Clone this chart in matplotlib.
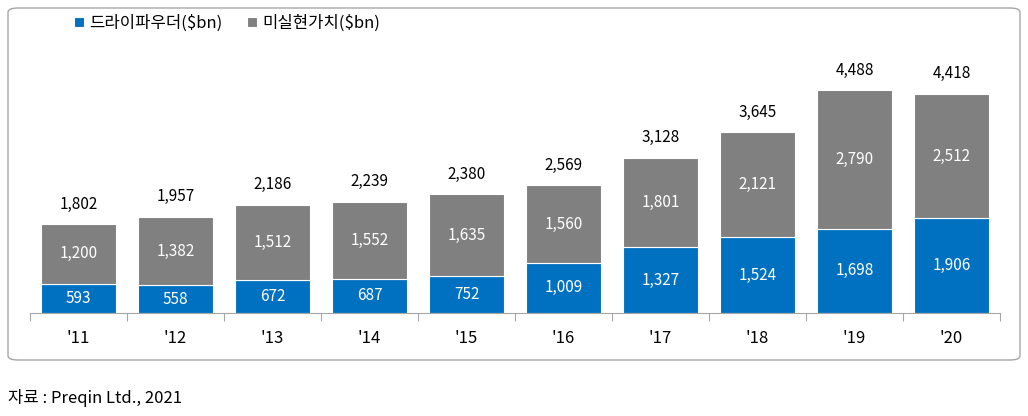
import matplotlib
matplotlib.use('Agg')
import matplotlib.pyplot as plt
from matplotlib.patches import FancyBboxPatch

plt.rcParams['font.family'] = ['Noto Sans CJK KR', 'Noto Sans CJK JP', 'Noto Sans CJK SC',
                               'Noto Sans CJK TC', 'DejaVu Sans']

years = ["'11", "'12", "'13", "'14", "'15", "'16", "'17", "'18", "'19", "'20"]
dry_powder = [593, 558, 672, 687, 752, 1009, 1327, 1524, 1698, 1906]
unrealized = [1200, 1382, 1512, 1552, 1635, 1560, 1801, 2121, 2790, 2512]
totals = [1802, 1957, 2186, 2239, 2380, 2569, 3128, 3645, 4488, 4418]

fig = plt.figure(figsize=(10.28, 4.16), dpi=100)

# rounded frame around chart
frame = FancyBboxPatch((8 / 1028, 56 / 416), 1012 / 1028, 352 / 416,
                       boxstyle='round,pad=0,rounding_size=0.01',
                       transform=fig.transFigure, fill=False,
                       edgecolor='#a6a6a6', linewidth=1)
fig.patches.append(frame)

ax = fig.add_axes([30 / 1028, 103 / 416, 970 / 1028, 293 / 416])
x = range(len(years))
ax.bar(x, dry_powder, width=0.77, color='#0070C0', label='드라이파우더($bn)',
       edgecolor='white', linewidth=0.8)
ax.bar(x, unrealized, width=0.77, bottom=dry_powder, color='#808080',
       label='미실현가치($bn)', edgecolor='white', linewidth=0.8)

for i in x:
    ax.text(i, dry_powder[i] / 2, f'{dry_powder[i]:,}', ha='center', va='center',
            color='white', fontsize=11)
    ax.text(i, dry_powder[i] + unrealized[i] / 2, f'{unrealized[i]:,}',
            ha='center', va='center', color='white', fontsize=11)
    ax.text(i, dry_powder[i] + unrealized[i] + 230, f'{totals[i]:,}',
            ha='center', va='bottom', color='black', fontsize=11)

ax.set_xlim(-0.5, len(years) - 0.5)
ax.set_ylim(0, 5900)
ax.set_yticks([])
for s in ['top', 'right', 'left']:
    ax.spines[s].set_visible(False)
ax.spines['bottom'].set_color('#a6a6a6')
ax.set_xticks([i + 0.5 for i in range(-1, len(years))])
ax.set_xticklabels([])
ax.tick_params(axis='x', length=6, color='#a6a6a6')
for i, y in enumerate(years):
    ax.text(i, -520, y, ha='center', va='center', fontsize=12)

ax.legend(loc='upper left', bbox_to_anchor=(0.03, 1.07), ncol=2, frameon=False,
          fontsize=12, handlelength=0.6, handleheight=0.6, columnspacing=1.5,
          handletextpad=0.3)

fig.text(8 / 1028, 18 / 416, '자료 : Preqin Ltd., 2021', fontsize=12, va='center')

fig.savefig('out.png', dpi=100)
